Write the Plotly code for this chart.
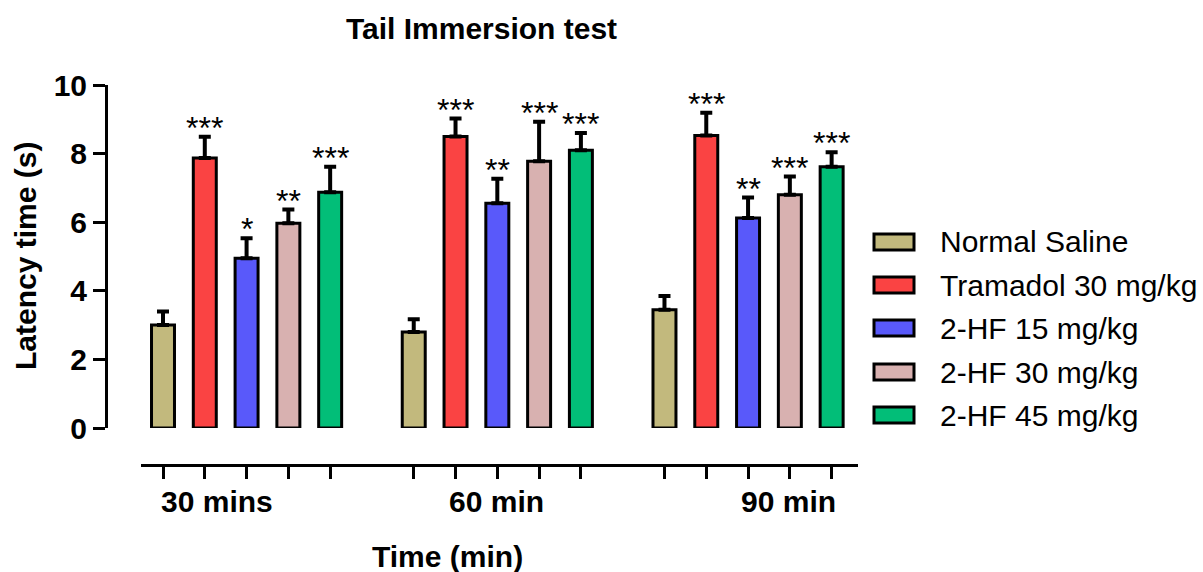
import plotly.graph_objects as go

# ---------------- data ----------------
time_labels = ["30 mins", "60 min", "90 min"]
groups = ["Normal Saline", "Tramadol 30 mg/kg", "2-HF 15 mg/kg", "2-HF 30 mg/kg", "2-HF 45 mg/kg"]
colors = ["#C2B97D", "#FA4343", "#5959FA", "#D8B1B0", "#02BE78"]

saline = [3.0, 2.8, 3.45]
tramadol = [7.87, 8.5, 8.53]
hf15 = [4.95, 6.55, 6.12]
hf30 = [5.97, 7.78, 6.8]
hf45 = [6.87, 8.1, 7.62]

saline_err = [0.4, 0.37, 0.4]
tramadol_err = [0.62, 0.52, 0.66]
hf15_err = [0.58, 0.72, 0.6]
hf30_err = [0.4, 1.15, 0.53]
hf45_err = [0.75, 0.5, 0.42]

saline_sig = ["", "", ""]
tramadol_sig = ["***", "***", "***"]
hf15_sig = ["*", "**", "**"]
hf30_sig = ["**", "***", "***"]
hf45_sig = ["***", "***", "***"]

yticks = [0, 2, 4, 6, 8, 10]

values = [saline, tramadol, hf15, hf30, hf45]
errors = [saline_err, tramadol_err, hf15_err, hf30_err, hf45_err]
sigs = [saline_sig, tramadol_sig, hf15_sig, hf30_sig, hf45_sig]

# ---------------- layout geometry ----------------
W, H = 1203, 572
L, R, T, B = 106, 858, 85, 465
FONT = "Liberation Sans, Arial, sans-serif"
GROUP_STEP = 6  # 5 bars + 1 gap slot

def px_x(px):
    return (px - L) / (R - L)

def px_y(py):
    return (B - py) / (B - T)

fig = go.Figure()
annotations = []

for gi, (name, col, vals, errs, sg) in enumerate(zip(groups, colors, values, errors, sigs)):
    xs = [ti * GROUP_STEP + gi for ti in range(len(time_labels))]
    fig.add_trace(go.Bar(
        x=xs, y=vals, name=name, width=0.55,
        marker=dict(color=col, line=dict(color="black", width=3)),
        error_y=dict(type="data", symmetric=False, array=errs,
                     arrayminus=[0] * len(errs), color="black", thickness=4, width=6),
        showlegend=False,
    ))
    for x, v, e, s in zip(xs, vals, errs, sg):
        if s:
            annotations.append(dict(
                x=x, y=v + e, xref="x", yref="y", text=s, showarrow=False,
                yanchor="middle", xanchor="center", yshift=9,
                font=dict(family=FONT, size=32, color="black"),
            ))

all_ticks = sorted(ti * GROUP_STEP + gi for ti in range(len(time_labels)) for gi in range(len(groups)))

# x category labels (shifted like the original)
label_x = [1.3, 7.97, 14.96]
for lx, lab in zip(label_x, time_labels):
    annotations.append(dict(
        x=lx, y=px_y(501), xref="x", yref="paper", text=lab, showarrow=False,
        xanchor="center", yanchor="middle",
        font=dict(family=FONT, size=30, color="black", weight="bold"),
    ))

# axis titles
annotations.append(dict(
    x=6.81, y=px_y(556), xref="x", yref="paper", text="Time (min)", showarrow=False,
    xanchor="center", yanchor="middle",
    font=dict(family=FONT, size=30, color="black", weight="bold"),
))
annotations.append(dict(
    x=px_x(26), y=px_y(256), xref="paper", yref="paper", text="Latency time (s)",
    showarrow=False, textangle=-90, xanchor="center", yanchor="middle",
    font=dict(family=FONT, size=30, color="black", weight="bold"),
))

# manual legend
shapes = []
row_y = [242, 285, 328, 372, 415]
for name, col, ry in zip(groups, colors, row_y):
    shapes.append(dict(
        type="rect", xref="paper", yref="paper",
        x0=px_x(874), x1=px_x(914), y0=px_y(ry + 8), y1=px_y(ry - 8),
        fillcolor=col, line=dict(color="black", width=3),
    ))
    annotations.append(dict(
        x=px_x(938), y=px_y(ry), xref="paper", yref="paper", text=name,
        showarrow=False, xanchor="left", yanchor="middle",
        font=dict(family=FONT, size=30, color="black"),
    ))

x_lo = (141 - 163) / 41.79
x_hi = (858 - 163) / 41.79

fig.update_layout(
    width=W, height=H,
    margin=dict(l=L, r=W - R, t=T, b=H - B, pad=0),
    plot_bgcolor="white", paper_bgcolor="white",
    barmode="overlay",
    title=dict(text="<b>Tail Immersion test</b>", x=481.5 / W, xref="container",
               xanchor="center", y=1 - 28 / H, yref="container", yanchor="middle",
               font=dict(family=FONT, size=30, color="black")),
    xaxis=dict(
        domain=[px_x(141), 1], range=[x_lo, x_hi], anchor="free", position=0,
        showline=True, linewidth=3, linecolor="black",
        ticks="outside", ticklen=12, tickwidth=3, tickcolor="black",
        tickvals=all_ticks, showticklabels=False, showgrid=False, zeroline=False,
    ),
    yaxis=dict(
        domain=[px_y(428), 1], range=[0, 10], anchor="free", position=0,
        showline=True, linewidth=3, linecolor="black",
        ticks="outside", ticklen=12, tickwidth=3, tickcolor="black",
        tickvals=yticks, ticktext=[str(t) for t in yticks],
        tickfont=dict(family=FONT, size=30, color="black", weight="bold"),
        showgrid=False, zeroline=False,
    ),
    annotations=annotations,
    shapes=shapes,
    showlegend=False,
)

fig.write_html("out.html")
